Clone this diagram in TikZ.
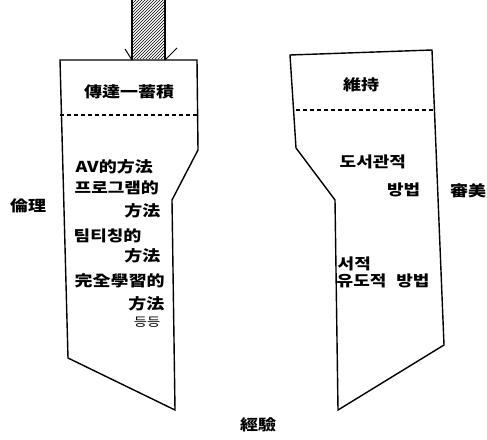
\documentclass[tikz,border=0pt]{standalone}
\usepackage{fontspec}
\usepackage{tikz}
\usetikzlibrary{patterns}
\newfontfamily\krfont[FakeStretch=1.2]{Noto Sans CJK KR}

\begin{document}
\begin{tikzpicture}[x=1pt,y=-1pt,line width=1.4pt,lab/.style={font=\krfont\bfseries\fontsize{15}{17}\selectfont,inner sep=0pt},lab1/.style={lab,anchor=west},lab2/.style={lab,anchor=east}]
\useasboundingbox (0,0) rectangle (487,439);
% hatched arrow
\fill[pattern=north east lines] (132,0) rectangle (165,58);
\draw (132,0) -- (132,60) (165,0) -- (165,60);
\draw[line width=1pt] (125,49) -- (132,60) (177,48) -- (165,60);
% left block
\draw (60,60) -- (197,60) -- (198,150) -- (172,200) -- (175,410) -- (68,358) -- cycle;
\draw[dash pattern=on 4pt off 3pt] (60,115) -- (197,115);
% right block
\draw (290,55) -- (432,50) -- (444,345) -- (338,410) -- (335,200) -- (296,148) -- cycle;
\draw[dash pattern=on 4pt off 3pt] (296,110) -- (433,110);
\node[lab] (t1) at (129,92) {傳達一蓄積};
\node[lab] (t2) at (361,85) {維持};
\node[lab1] (a1) at (75,167) {AV的方法};
\node[lab1] (a2) at (74,188) {프로그램的};
\node[lab2] (a3) at (161,211) {方法};
\node[lab1] (a4) at (73,236) {팀티칭的};
\node[lab2] (a5) at (161,256) {方法};
\node[lab1] (a6) at (74,281) {完全學習的};
\node[lab2] (a7) at (165,304) {方法};
\node[lab2,font=\krfont\fontsize{12}{14}\selectfont] (a8) at (161,322) {등등};
\node[lab1] (b1) at (339,162) {도서관적};
\node[lab2] (b2) at (421,190) {방법};
\node[lab1] (b3) at (337,264) {서적};
\node[lab1] (b4) at (336,281) {유도적\hspace{10pt}방법};
\node[lab] (l1) at (28,206) {倫理};
\node[lab] (l2) at (468,191) {審美};
\node[lab] (l3) at (258,425) {經驗};
\end{tikzpicture}
\end{document}
